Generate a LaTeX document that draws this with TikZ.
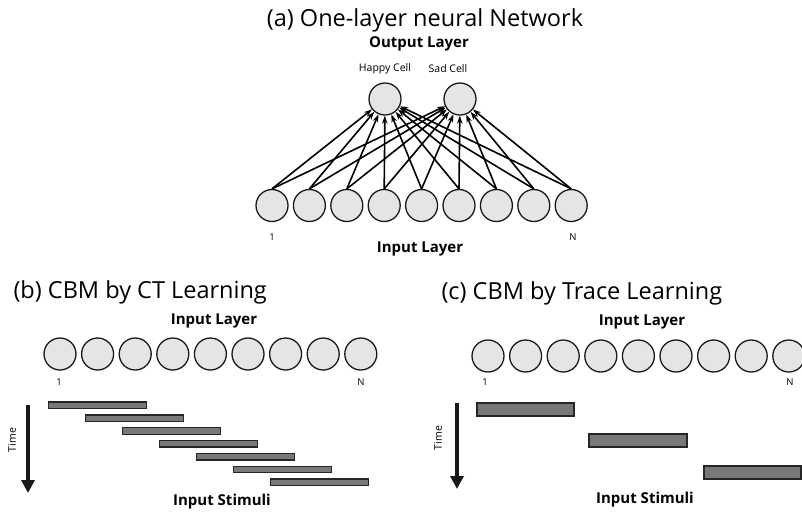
\documentclass[tikz,border=0pt]{standalone}
\usepackage{fontspec}
\setmainfont{Open Sans}
\usetikzlibrary{arrows.meta}
\definecolor{cellgray}{RGB}{229,229,230}
\definecolor{bargray}{RGB}{120,120,122}
\begin{document}
\begin{tikzpicture}[x=1pt,y=-1pt,
  neuron/.style={circle,draw=black!90,fill=cellgray,line width=1.3pt,minimum size=32pt,inner sep=0pt},
  conn/.style={-{Stealth[length=8pt,width=5.5pt]},line width=1.6pt},
  titletext/.style={font=\fontsize{23.5}{28}\selectfont},
  headtext/.style={font=\bfseries\fontsize{15}{18}\selectfont},
  smalltext/.style={font=\fontsize{10.5}{12}\selectfont},
  tinytext/.style={font=\fontsize{9.5}{11}\selectfont},
  stim/.style={draw=black!85,fill=bargray,line width=1.4pt},
  timearrow/.style={-{Triangle[length=13pt,width=13pt]},line width=3.8pt,draw=black!90}]
\useasboundingbox (0,0) rectangle (802,515);

% (a)
\node[titletext] (ta) at (425,20) {(a) One-layer neural Network};
\node[headtext] (ola) at (419,44) {Output Layer};
\node[smalltext] (hl) at (385,69) {Happy Cell};
\node[smalltext] (sl) at (448,69) {Sad Cell};
\node[neuron] (h) at (385,99) {};
\node[neuron] (s) at (460,99) {};
\foreach \i in {1,...,9}{
  \node[neuron] (a\i) at ({272+37.4*(\i-1)},205.5) {};
}
\foreach \i in {1,...,9}{
  \draw[conn] (a\i.north) -- (h);
  \draw[conn] (a\i.north) -- (s);
}
\node[tinytext] (a1l) at (272,237) {1};
\node[tinytext] (aNl) at (573,237) {N};
\node[headtext] (ila) at (420,249) {Input Layer};

% (b)
\node[titletext,anchor=west] (tb) at (10,292) {(b) CBM by CT Learning};
\node[headtext] (ilb) at (214,321) {Input Layer};
\foreach \i in {1,...,9}{
  \node[neuron] (b\i) at ({60+37.6*(\i-1)},354) {};
}
\node[tinytext] (b1l) at (59,382) {1};
\node[tinytext] (bNl) at (361,382) {N};
\foreach \k in {0,...,6}{
  \draw[stim] ({48.5+37*\k},{402+12.85*\k}) rectangle ++(98,6.5);
}
\coordinate (tbs) at (28,405);
\coordinate (tbe) at (28,493);
\draw[timearrow] (tbs) -- (tbe);
\node[smalltext,rotate=90] (timeb) at (12,440) {Time};
\node[headtext] (isb) at (222,502) {Input Stimuli};

% (c)
\node[titletext,anchor=west] (tc) at (438,293) {(c) CBM by Trace Learning};
\node[headtext] (ilc) at (642,322) {Input Layer};
\foreach \i in {1,...,9}{
  \node[neuron] (c\i) at ({488+37.6*(\i-1)},356) {};
}
\node[tinytext] (c1l) at (485,382) {1};
\node[tinytext] (cNl) at (790,382) {N};
\draw[stim] (477,403) rectangle (574,416);
\draw[stim] (589,434) rectangle (687,447);
\draw[stim] (704,466) rectangle (801,479);
\coordinate (tcs) at (457,403);
\coordinate (tce) at (457,489);
\draw[timearrow] (tcs) -- (tce);
\node[smalltext,rotate=90] (timec) at (438,438) {Time};
\node[headtext] (isc) at (645,500) {Input Stimuli};
\end{tikzpicture}
\end{document}
